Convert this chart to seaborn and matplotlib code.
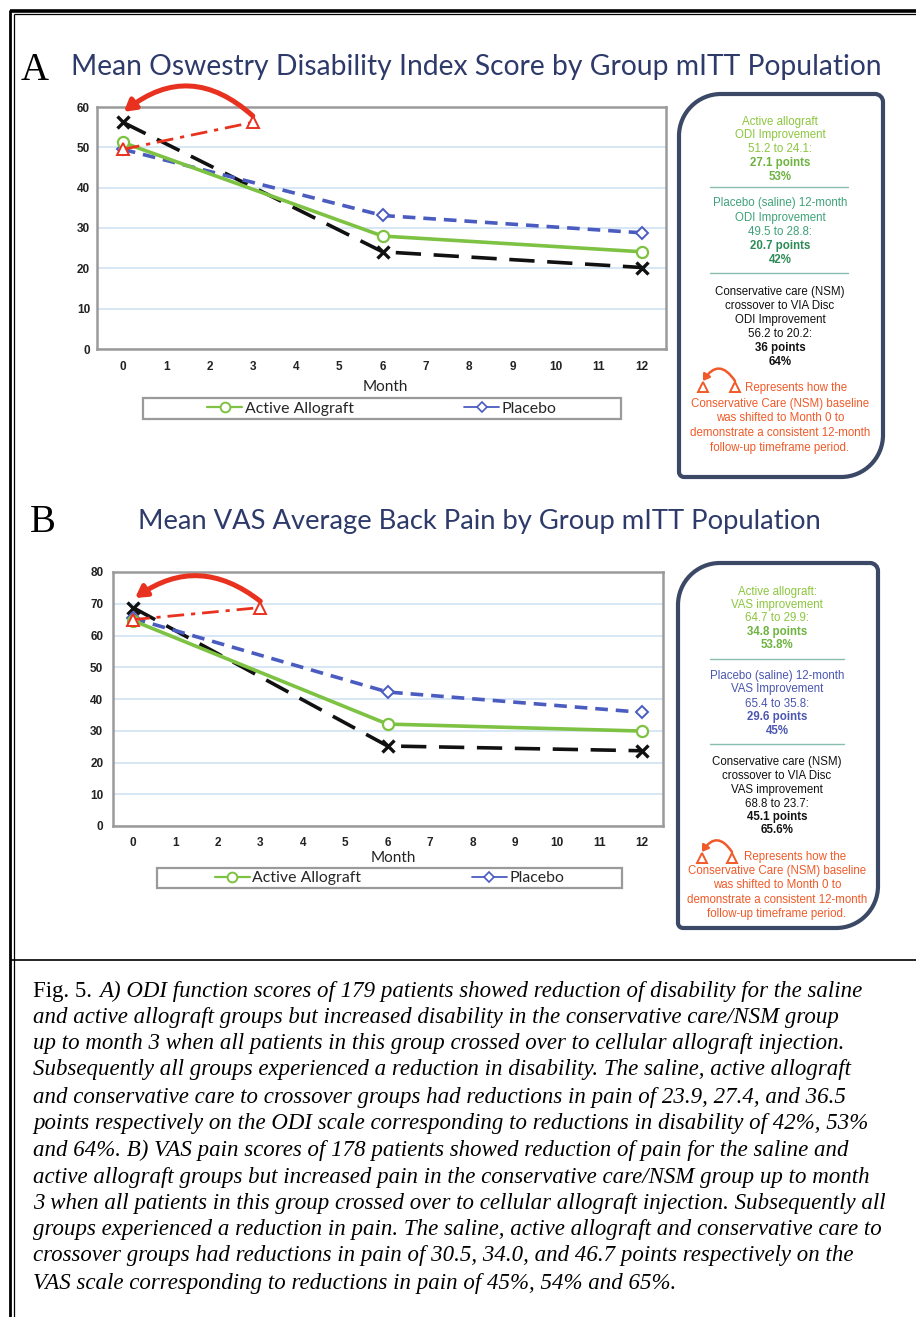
import numpy as np
import pandas as pd
import seaborn as sns
import matplotlib
matplotlib.use("Agg")
import matplotlib.pyplot as plt
from matplotlib.path import Path
from matplotlib.patches import PathPatch, Rectangle
from matplotlib.lines import Line2D

# ---------------- data ----------------
months = [0, 6, 12]
shift_months = [0, 3]
odi_active = [51.2, 28.0, 24.1]
odi_placebo = [49.5, 33.1, 28.8]
odi_nsm = [56.2, 24.1, 20.2]
odi_shift = [49.5, 56.2]
vas_active = [64.7, 32.1, 29.9]
vas_placebo = [65.4, 42.2, 35.8]
vas_nsm = [68.8, 25.2, 23.7]
vas_shift = [65.0, 68.8]
month_ticks = list(range(13))
odi_yticks = [0, 10, 20, 30, 40, 50, 60]
vas_yticks = [0, 10, 20, 30, 40, 50, 60, 70, 80]
legend_labels = ["Active Allograft", "Placebo"]
title_a = "Mean Oswestry Disability Index Score by Group mITT Population"
title_b = "Mean VAS Average Back Pain by Group mITT Population"

# ---------------- style ----------------
sns.set_theme(style="white")
plt.rcParams["font.family"] = ["Lato", "DejaVu Sans"]

GREEN = "#7dc242"
BLUE = "#4a5cc0"
BLACK = "#111111"
RED = "#e8321f"
NAVY = "#2d3a6a"
FRAME = "#9a9a9a"
GRID = "#d3e5f5"
BOXC = "#3b4866"

W, H = 916, 1317
fig = plt.figure(figsize=(W / 100, H / 100), dpi=100)
fig.patch.set_facecolor("white")


def fx(x):
    return x / W


def fy(y):
    return 1 - y / H


# overlay in pixel coordinates
ov = fig.add_axes([0, 0, 1, 1], zorder=-1)
ov.set_xlim(0, W)
ov.set_ylim(H, 0)
ov.axis("off")


def draw_panel(rect, active, placebo, nsm, shift, yticks, xlim, arc, legend_box,
               month_pos, ypad, xpad):
    l, t, r, b = rect
    ax = fig.add_axes([fx(l), fy(b), (r - l) / W, (b - t) / H])
    sns.lineplot(x=months, y=active, ax=ax, color=GREEN, lw=2.6, marker="o",
                 markersize=8, markerfacecolor="white", markeredgecolor=GREEN,
                 markeredgewidth=1.6, zorder=5)
    sns.lineplot(x=months, y=placebo, ax=ax, color=BLUE, lw=2.6,
                 linestyle=(0, (3.5, 2.2)), marker="D", markersize=6.5,
                 markerfacecolor="white", markeredgecolor=BLUE,
                 markeredgewidth=1.4, zorder=4)
    sns.lineplot(x=months, y=nsm, ax=ax, color=BLACK, lw=2.6,
                 linestyle=(0, (7, 3.5)), marker="x", markersize=8,
                 markeredgecolor=BLACK, markeredgewidth=2.4, zorder=3)
    sns.lineplot(x=shift_months, y=shift, ax=ax, color=RED, lw=2.0,
                 linestyle=(0, (6, 2.5, 1.5, 2.5)), marker="^", markersize=8,
                 markerfacecolor="white", markeredgecolor=RED,
                 markeredgewidth=1.4, zorder=6)
    # curved arrow showing the baseline shift
    (x0, y0), (x1, y1), rad = arc
    ax.annotate("", xy=(x1, y1), xytext=(x0, y0),
                arrowprops=dict(arrowstyle="-|>,head_length=0.55,head_width=0.32",
                                color=RED, lw=3.6, shrinkA=0, shrinkB=0,
                                connectionstyle=f"arc3,rad={rad}"),
                annotation_clip=False, zorder=8)
    ax.set_xlim(*xlim)
    ax.set_ylim(yticks[0], yticks[-1])
    ax.set_xticks(month_ticks)
    ax.set_yticks(yticks)
    ax.yaxis.grid(True, color=GRID, lw=1.3)
    ax.xaxis.grid(False)
    ax.set_axisbelow(True)
    for s in ax.spines.values():
        s.set_visible(True)
        s.set_color(FRAME)
        s.set_linewidth(1.8)
    ax.tick_params(axis="both", length=0, labelsize=8.5, colors="#222222")
    ax.tick_params(axis="x", pad=xpad)
    ax.tick_params(axis="y", pad=ypad)
    for lab in ax.get_xticklabels() + ax.get_yticklabels():
        lab.set_fontweight("bold")
        lab.set_family(["Liberation Sans", "DejaVu Sans"])
    ax.set_ylabel("")
    ax.set_xlabel("Month", fontsize=11, color="#222222", va="center")
    ax.xaxis.set_label_coords((month_pos[0] - l) / (r - l),
                              (b - month_pos[1]) / (b - t))
    # legend
    bl, bt, br, bb = legend_box
    ov.add_patch(Rectangle((bl, bt), br - bl, bb - bt, fill=False,
                           edgecolor=FRAME, lw=1.6))
    handles = [Line2D([], [], color=GREEN, lw=1.6, marker="o", ms=7,
                      mfc="white", mec=GREEN, mew=1.4),
               Line2D([], [], color=BLUE, lw=1.3, marker="D", ms=5.5,
                      mfc="white", mec=BLUE, mew=1.2)]
    ax.legend(handles, legend_labels, loc="center",
              bbox_to_anchor=(fx((bl + br) / 2), fy((bt + bb) / 2)),
              bbox_transform=fig.transFigure, ncol=2, frameon=False,
              columnspacing=7.0, handlelength=2.2, handletextpad=0.15,
              fontsize=11.4, borderaxespad=0, borderpad=0)
    return ax


draw_panel((97, 107, 666, 349), odi_active, odi_placebo, odi_nsm, odi_shift,
           odi_yticks, (-0.60, 12.55), ((3.0, 57.8), (0.02, 58.8), 0.42),
           (143, 398, 621, 419), (385, 387), ypad=5, xpad=9)
draw_panel((113, 572, 663, 826), vas_active, vas_placebo, vas_nsm, vas_shift,
           vas_yticks, (-0.47, 12.49), ((3.0, 70.8), (0.05, 71.8), 0.37),
           (157, 868, 622, 888), (393, 858), ypad=7, xpad=8)

# ---------------- titles ----------------
ov.text(35, 70, "A", family=["Liberation Serif"], fontsize=28, ha="center",
        va="center", color="black")
ov.text(43, 522, "B", family=["Liberation Serif"], fontsize=28, ha="center",
        va="center", color="black")
ov.text(476, 67, title_a, fontsize=20.3, color=NAVY, ha="center", va="center")
ov.text(479, 522, title_b, fontsize=19.7, color=NAVY, ha="center", va="center")


# ---------------- side boxes ----------------
def rbox(l, t, r, b, rtl, rtr, rbr, rbl):
    k = 0.5523
    verts = [(l + rtl, t), (r - rtr, t),
             (r - rtr + k * rtr, t), (r, t + rtr - k * rtr), (r, t + rtr),
             (r, b - rbr),
             (r, b - rbr + k * rbr), (r - rbr + k * rbr, b), (r - rbr, b),
             (l + rbl, b),
             (l + rbl - k * rbl, b), (l, b - rbl + k * rbl), (l, b - rbl),
             (l, t + rtl),
             (l, t + rtl - k * rtl), (l + rtl - k * rtl, t), (l + rtl, t)]
    codes = [Path.MOVETO, Path.LINETO,
             Path.CURVE4, Path.CURVE4, Path.CURVE4,
             Path.LINETO,
             Path.CURVE4, Path.CURVE4, Path.CURVE4,
             Path.LINETO,
             Path.CURVE4, Path.CURVE4, Path.CURVE4,
             Path.LINETO,
             Path.CURVE4, Path.CURVE4, Path.CURVE4]
    ov.add_patch(PathPatch(Path(verts, codes), fill=False, edgecolor=BOXC,
                           lw=3.0))


rbox(679, 94, 883, 477, 42, 8, 42, 5)
rbox(678, 563, 878, 928, 42, 8, 42, 5)

LG = "#8cc63f"
LG_B = "#6db33f"
TEAL = "#3fa27a"
TEAL_B = "#2e8b57"
PBLUE = "#4a56b0"
ORANGE = "#f05a28"
SEP = "#86bdb0"
BF = ["Liberation Sans", "DejaVu Sans"]
BOX_FS = 8.3

box_a = [
    (121.7, "Active allograft", LG, "normal"),
    (135, "ODI Improvement", LG, "normal"),
    (149, "51.2 to 24.1:", LG, "normal"),
    (163, "27.1 points", LG_B, "bold"),
    (177, "53%", LG_B, "bold"),
    (203, "Placebo (saline) 12-month", TEAL, "normal"),
    (218, "ODI Improvement", TEAL, "normal"),
    (232, "49.5 to 28.8:", TEAL, "normal"),
    (246, "20.7 points", TEAL_B, "bold"),
    (260, "42%", TEAL_B, "bold"),
    (292, "Conservative care (NSM)", "#111111", "normal"),
    (306, "crossover to VIA Disc", "#111111", "normal"),
    (320, "ODI Improvement", "#111111", "normal"),
    (334, "56.2 to 20.2:", "#111111", "normal"),
    (348, "36 points", "#111111", "bold"),
    (362, "64%", "#111111", "bold"),
    (404, "Conservative Care (NSM) baseline", ORANGE, "normal"),
    (418, "was shifted to Month 0 to", ORANGE, "normal"),
    (433, "demonstrate a consistent 12-month", ORANGE, "normal"),
    (448, "follow-up timeframe period.", ORANGE, "normal"),
]
box_b = [
    (592, "Active allograft:", LG, "normal"),
    (605, "VAS improvement", LG, "normal"),
    (618, "64.7 to 29.9:", LG, "normal"),
    (632, "34.8 points", LG_B, "bold"),
    (645, "53.8%", LG_B, "bold"),
    (676, "Placebo (saline) 12-month", PBLUE, "normal"),
    (689, "VAS Improvement", PBLUE, "normal"),
    (704, "65.4 to 35.8:", PBLUE, "normal"),
    (717, "29.6 points", PBLUE, "bold"),
    (731, "45%", PBLUE, "bold"),
    (762, "Conservative care (NSM)", "#111111", "normal"),
    (776, "crossover to VIA Disc", "#111111", "normal"),
    (790, "VAS improvement", "#111111", "normal"),
    (804, "68.8 to 23.7:", "#111111", "normal"),
    (817, "45.1 points", "#111111", "bold"),
    (830, "65.6%", "#111111", "bold"),
    (871, "Conservative Care (NSM) baseline", ORANGE, "normal"),
    (885, "was shifted to Month 0 to", ORANGE, "normal"),
    (900, "demonstrate a consistent 12-month", ORANGE, "normal"),
    (914, "follow-up timeframe period.", ORANGE, "normal"),
]
for cx, items in ((780, box_a), (777, box_b)):
    for y, s, c, wgt in items:
        ov.text(cx, y, s, ha="center", va="center", fontsize=BOX_FS, color=c,
                fontweight=wgt, family=BF)

for y in (187, 273):
    ov.plot([710, 848], [y, y], color=SEP, lw=1.0)
for y in (659, 744):
    ov.plot([710, 844], [y, y], color=SEP, lw=1.0)

# small legend icons for the shift arrow
for (xl, xr, yt, ytxt, xtxt) in ((703, 735, 387, 388, 745), (702, 732, 858, 857, 744)):
    ov.plot([xl, xr], [yt, yt], ls="none", marker="^", ms=7, mfc="white",
            mec=ORANGE, mew=1.4)
    ov.annotate("", xy=(xl, yt - 6), xytext=(xr, yt - 6),
                arrowprops=dict(arrowstyle="-|>,head_length=0.3,head_width=0.2",
                                color=ORANGE, lw=1.8, shrinkA=0, shrinkB=0,
                                connectionstyle="arc3,rad=0.75"))
    ov.text(xtxt, ytxt, "Represents how the", ha="left", va="center",
            fontsize=BOX_FS, color=ORANGE, family=BF)

# ---------------- page frame ----------------
ov.plot([10, W], [10.5, 10.5], color="black", lw=2.6, solid_capstyle="butt")
ov.plot([14, W], [14, 14], color="black", lw=0.9, solid_capstyle="butt")
ov.plot([10, 10], [9.5, H], color="black", lw=2.0, solid_capstyle="butt")
ov.plot([14, 14], [14, H], color="black", lw=0.9, solid_capstyle="butt")
ov.plot([10, W], [960, 960], color="black", lw=1.2, solid_capstyle="butt")

# ---------------- caption ----------------
SERIF = ["Liberation Serif", "DejaVu Serif"]
cap_size = 16.5
caption_lines = [
    "and active allograft groups but increased disability in the conservative care/NSM group",
    "up to month 3 when all patients in this group crossed over to cellular allograft injection.",
    "Subsequently all groups experienced a reduction in disability. The saline, active allograft",
    "and conservative care to crossover groups had reductions in pain of 23.9, 27.4, and 36.5",
    "points respectively on the ODI scale corresponding to reductions in disability of 42%, 53%",
    "and 64%. B) VAS pain scores of 178 patients showed reduction of pain for the saline and",
    "active allograft groups but increased pain in the conservative care/NSM group up to month",
    "3 when all patients in this group crossed over to cellular allograft injection. Subsequently all",
    "groups experienced a reduction in pain. The saline, active allograft and conservative care to",
    "crossover groups had reductions in pain of 30.5, 34.0, and 46.7 points respectively on the",
    "VAS scale corresponding to reductions in pain of 45%, 54% and 65%.",
]
line_y = [991, 1017, 1043, 1070, 1097, 1123, 1150, 1177, 1203, 1230, 1256, 1283]
ov.text(33, line_y[0], "Fig. 5.", ha="left", va="center", fontsize=cap_size,
        family=SERIF, color="black")
ov.text(99, line_y[0],
        "A) ODI function scores of 179 patients showed reduction of disability for the saline",
        ha="left", va="center", fontsize=cap_size, family=SERIF,
        style="italic", color="black")
for y, s in zip(line_y[1:], caption_lines):
    ov.text(33, y, s, ha="left", va="center", fontsize=cap_size, family=SERIF,
            style="italic", color="black")

fig.savefig("out.png", dpi=100, facecolor="white")
